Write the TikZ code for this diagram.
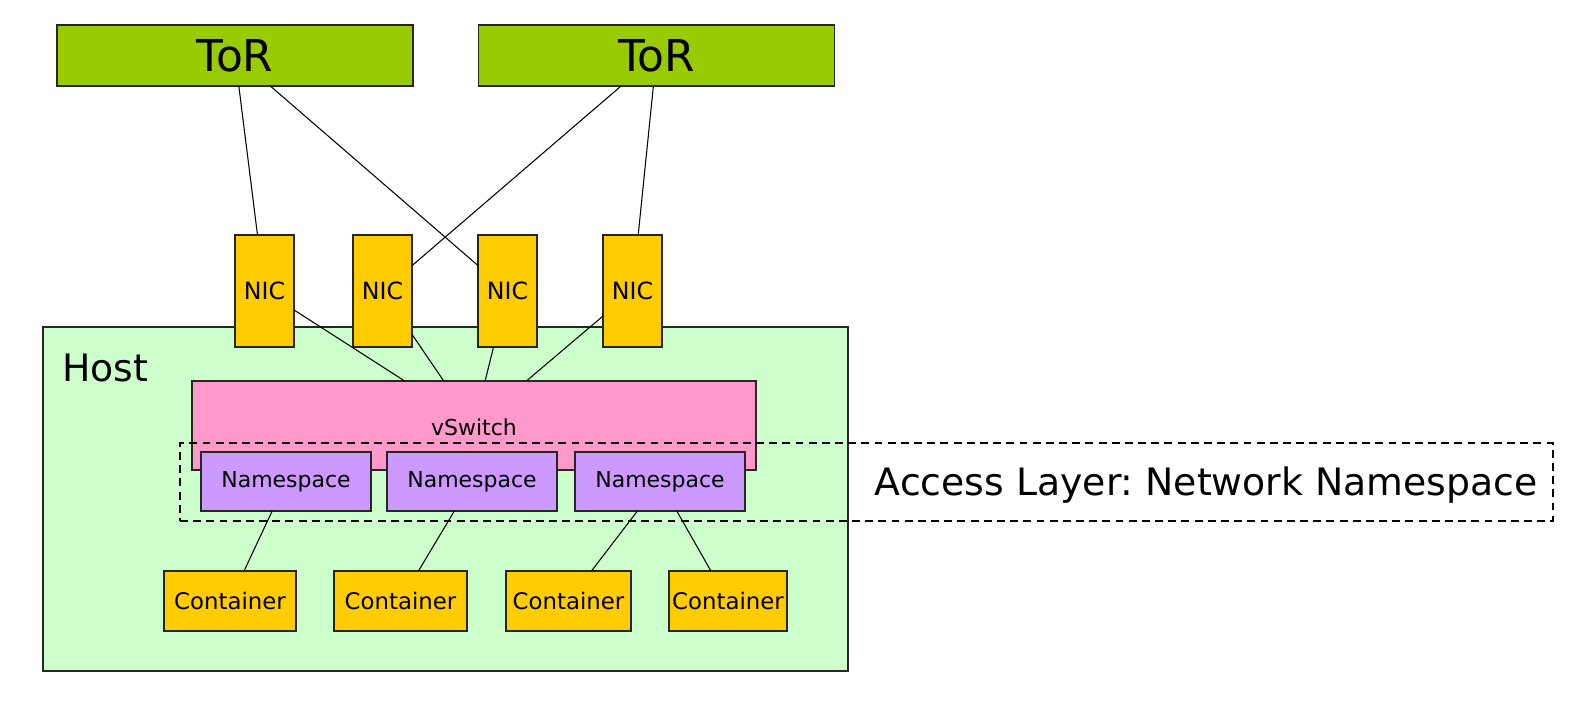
\documentclass[tikz,border=0pt]{standalone}
\usepackage{fontspec}
\setmainfont{DejaVu Sans}
\frenchspacing
\definecolor{torgreen}{HTML}{99CC00}
\definecolor{nicyellow}{HTML}{FFCC00}
\definecolor{hostgreen}{HTML}{CCFFCC}
\definecolor{vspink}{HTML}{FF99CC}
\definecolor{nspurple}{HTML}{CC99FF}
\begin{document}
\begin{tikzpicture}[x=0.02cm,y=-0.02cm,
  sz/.style 2 args={minimum width={#1*0.02cm}, minimum height={#2*0.02cm}},
  box/.style={draw=black!85, line width=0.7pt, inner sep=0pt, outer sep=0pt},
  torbox/.style={box, fill=torgreen, sz={356}{61}, font=\fontsize{25}{30}\selectfont},
  nicbox/.style={box, fill=nicyellow, sz={59}{112}, font=\fontsize{13.5}{16}\selectfont},
  ctbox/.style={box, fill=nicyellow, minimum height={60*0.02cm}, font=\fontsize{13}{16}\selectfont},
  nsbox/.style={box, fill=nspurple, sz={170}{59}, font=\fontsize{12.5}{15}\selectfont},
  link/.style={draw=black, line width=0.6pt},
  bigtext/.style={font=\fontsize{21.5}{26}\selectfont, inner sep=0pt}
]
\useasboundingbox (0,0) rectangle (1578,704);
% host
\node[box, fill=hostgreen, sz={805}{344}] (host) at (445.5,499) {};
\node[bigtext, anchor=west] (hostlabel) at (62,368) {Host};
% ToRs
\node[torbox] (tor1) at (235,55.5) {ToR};
\node[torbox] (tor2) at (656.5,55.5) {ToR};
% vSwitch
\node[box, fill=vspink, sz={564}{89}] (vs) at (474,425.5) {};
\node[font=\fontsize{12.5}{15}\selectfont, inner sep=0pt] (vslabel) at (474,427) {vSwitch};
% dashed access layer
\node[draw=black, line width=0.7pt, dash pattern=on 4.5pt off 3pt, inner sep=0pt, sz={1373}{78}] (access) at (866.5,482) {};
\node[bigtext, anchor=east] (accesslabel) at (1538,485) {Access Layer: Network Namespace};
% NICs
\node[nicbox] (nic1) at (264.5,291) {NIC};
\node[nicbox] (nic2) at (382.5,291) {NIC};
\node[nicbox] (nic3) at (507.5,291) {NIC};
\node[nicbox] (nic4) at (632.5,291) {NIC};
% namespaces
\node[nsbox] (ns1) at (286,481.5) {Namespace};
\node[nsbox] (ns2) at (472,481.5) {Namespace};
\node[nsbox] (ns3) at (660,481.5) {Namespace};
% containers
\node[ctbox, minimum width={132*0.02cm}] (c1) at (230,601) {Container};
\node[ctbox, minimum width={133*0.02cm}] (c2) at (400.5,601) {Container};
\node[ctbox, minimum width={125*0.02cm}] (c3) at (568.5,601) {Container};
\node[ctbox, minimum width={118*0.02cm}] (c4) at (728,601) {Container};
% links
\draw[link] (tor1) -- (nic1);
\draw[link] (tor1) -- (nic3);
\draw[link] (tor2) -- (nic2);
\draw[link] (tor2) -- (nic4);
\draw[link] (nic1) -- (vs);
\draw[link] (nic2) -- (vs);
\draw[link] (nic3) -- (vs);
\draw[link] (nic4) -- (vs);
\draw[link] (ns1) -- (c1);
\draw[link] (ns2) -- (c2);
\draw[link] (ns3) -- (c3);
\draw[link] (ns3) -- (c4);
\end{tikzpicture}
\end{document}
